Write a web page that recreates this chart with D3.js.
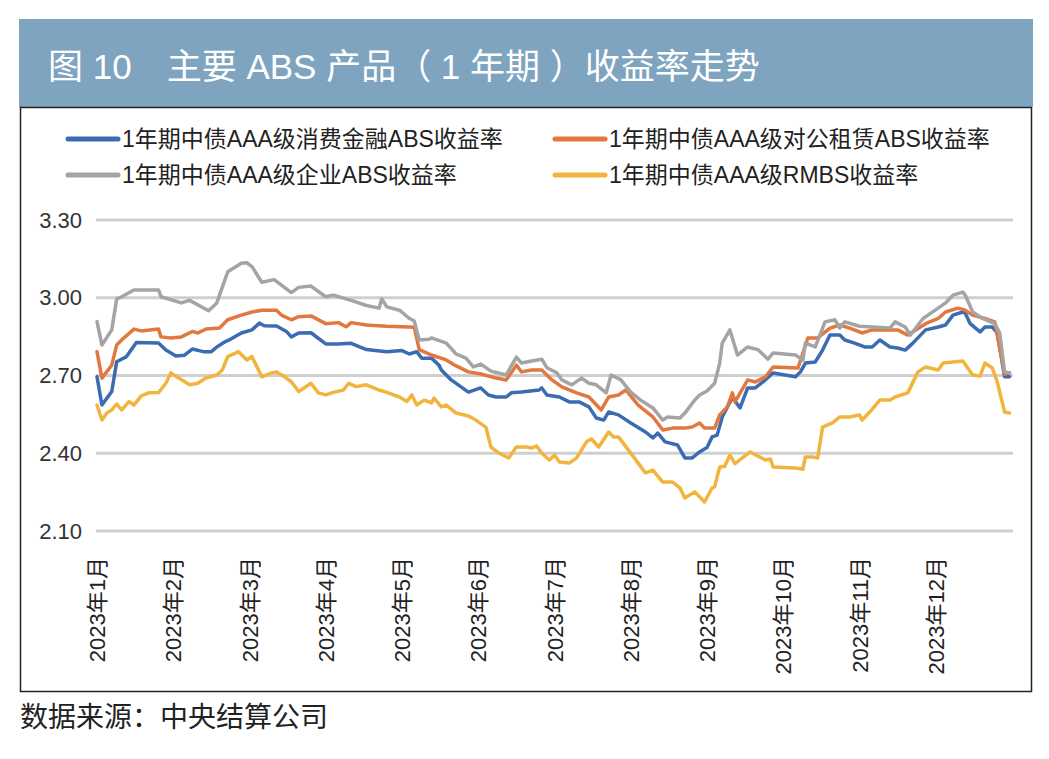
<!DOCTYPE html>
<html>
<head>
<meta charset="utf-8" />
<script src="https://d3js.org/d3.v7.min.js"></script>
<style>
  body { margin: 0; background: #fff; }
  text { font-family: "Liberation Sans", "Noto Sans CJK SC", sans-serif; }
  .grid line { stroke: #cfcfcf; stroke-width: 3px; }
  .series { fill: none; stroke-width: 3.5px; stroke-linejoin: round; stroke-linecap: round; }
</style>
</head>
<body>
<svg id="chart" width="1049" height="759"></svg>
<script>

var title = "图 10\u3000主要 ABS 产品（ 1 年期 ）收益率走势";
var source = "数据来源：中央结算公司";

var monthLabels = ["2023年1月", "2023年2月", "2023年3月", "2023年4月", "2023年5月", "2023年6月",
  "2023年7月", "2023年8月", "2023年9月", "2023年10月", "2023年11月", "2023年12月"];
var yTicks = [2.10, 2.40, 2.70, 3.00, 3.30];
var monthDays = [31, 28, 31, 30, 31, 30, 31, 31, 30, 31, 30, 31];

var seriesNames = ["1年期中债AAA级消费金融ABS收益率", "1年期中债AAA级对公租赁ABS收益率",
  "1年期中债AAA级企业ABS收益率", "1年期中债AAA级RMBS收益率"];
var seriesColors = ["#3b6cb2", "#e2783f", "#a4a4a4", "#f1b53d"];

var consumer = [
  ["01-01", 2.695], ["01-03", 2.586], ["01-07", 2.638], ["01-09", 2.753], ["01-13", 2.773], ["01-17", 2.827],
  ["01-26", 2.825], ["01-29", 2.798], ["02-02", 2.775], ["02-05", 2.778], ["02-08", 2.802], ["02-12", 2.792],
  ["02-15", 2.792], ["02-17", 2.81], ["02-20", 2.83], ["02-22", 2.84], ["02-26", 2.864], ["03-02", 2.876],
  ["03-05", 2.902], ["03-07", 2.892], ["03-12", 2.891], ["03-16", 2.87], ["03-18", 2.849], ["03-21", 2.864],
  ["03-26", 2.865], ["04-01", 2.822], ["04-06", 2.822], ["04-11", 2.824], ["04-17", 2.8], ["04-25", 2.792],
  ["05-01", 2.796], ["05-04", 2.783], ["05-07", 2.792], ["05-09", 2.767], ["05-13", 2.767], ["05-16", 2.74],
  ["05-17", 2.721], ["05-21", 2.683], ["05-25", 2.656], ["05-28", 2.636], ["06-02", 2.652], ["06-05", 2.625],
  ["06-08", 2.617], ["06-12", 2.617], ["06-14", 2.633], ["06-18", 2.636], ["06-25", 2.644], ["06-26", 2.652],
  ["06-28", 2.625], ["07-03", 2.617], ["07-07", 2.598], ["07-11", 2.598], ["07-15", 2.579], ["07-18", 2.536],
  ["07-21", 2.528], ["07-23", 2.559], ["07-27", 2.548], ["08-01", 2.517], ["08-07", 2.482], ["08-10", 2.459],
  ["08-12", 2.478], ["08-15", 2.444], ["08-20", 2.432], ["08-23", 2.382], ["08-26", 2.382], ["08-29", 2.405],
  ["09-01", 2.422], ["09-03", 2.463], ["09-05", 2.47], ["09-07", 2.54], ["09-11", 2.615], ["09-14", 2.575],
  ["09-17", 2.652], ["09-20", 2.652], ["09-23", 2.675], ["09-27", 2.71], ["10-06", 2.695], ["10-08", 2.714],
  ["10-10", 2.748], ["10-14", 2.752], ["10-17", 2.798], ["10-20", 2.856], ["10-24", 2.856], ["10-26", 2.837],
  ["10-30", 2.825], ["11-03", 2.81], ["11-06", 2.81], ["11-09", 2.837], ["11-13", 2.81], ["11-16", 2.806],
  ["11-19", 2.798], ["11-22", 2.825], ["11-27", 2.876], ["12-02", 2.887], ["12-05", 2.895], ["12-08", 2.933],
  ["12-12", 2.945], ["12-13", 2.94], ["12-15", 2.9], ["12-19", 2.868], ["12-21", 2.887], ["12-24", 2.887],
  ["12-26", 2.864], ["12-29", 2.695], ["12-31", 2.695]
];

var leasing = [
  ["01-01", 2.792], ["01-03", 2.69], ["01-07", 2.74], ["01-09", 2.818], ["01-11", 2.837], ["01-16", 2.879],
  ["01-19", 2.872], ["01-26", 2.879], ["01-27", 2.849], ["01-31", 2.845], ["02-04", 2.849], ["02-08", 2.87],
  ["02-10", 2.864], ["02-13", 2.879], ["02-18", 2.883], ["02-21", 2.915], ["02-26", 2.933], ["03-02", 2.945],
  ["03-06", 2.952], ["03-12", 2.952], ["03-14", 2.933], ["03-18", 2.915], ["03-21", 2.927], ["03-26", 2.93],
  ["04-01", 2.9], ["04-06", 2.904], ["04-09", 2.888], ["04-11", 2.904], ["04-17", 2.895], ["04-25", 2.89],
  ["05-01", 2.888], ["05-06", 2.886], ["05-08", 2.8], ["05-13", 2.779], ["05-19", 2.76], ["05-23", 2.737],
  ["05-28", 2.714], ["06-02", 2.706], ["06-08", 2.69], ["06-12", 2.683], ["06-16", 2.74], ["06-18", 2.714],
  ["06-22", 2.721], ["06-26", 2.721], ["06-30", 2.683], ["07-04", 2.656], ["07-10", 2.633], ["07-15", 2.617],
  ["07-20", 2.567], ["07-23", 2.617], ["07-27", 2.625], ["07-30", 2.644], ["08-04", 2.586], ["08-10", 2.54],
  ["08-14", 2.49], ["08-18", 2.497], ["08-23", 2.497], ["08-26", 2.501], ["08-29", 2.517], ["08-31", 2.497],
  ["09-04", 2.497], ["09-06", 2.548], ["09-09", 2.579], ["09-11", 2.633], ["09-12", 2.598], ["09-17", 2.683],
  ["09-20", 2.675], ["09-24", 2.695], ["09-27", 2.733], ["10-07", 2.729], ["10-11", 2.845], ["10-15", 2.845],
  ["10-20", 2.883], ["10-24", 2.895], ["10-28", 2.883], ["11-02", 2.864], ["11-06", 2.876], ["11-11", 2.876],
  ["11-16", 2.876], ["11-20", 2.856], ["11-27", 2.9], ["12-02", 2.92], ["12-05", 2.945], ["12-10", 2.96],
  ["12-13", 2.952], ["12-16", 2.933], ["12-21", 2.92], ["12-25", 2.907], ["12-29", 2.705], ["12-31", 2.71]
];

var corporate = [
  ["01-01", 2.908], ["01-03", 2.818], ["01-07", 2.876], ["01-09", 2.995], ["01-11", 3.004], ["01-16", 3.03],
  ["01-26", 3.03], ["01-27", 3.004], ["02-04", 2.98], ["02-07", 2.99], ["02-14", 2.95], ["02-17", 2.98],
  ["02-19", 3.04], ["02-21", 3.10], ["02-26", 3.133], ["02-28", 3.135], ["03-02", 3.12], ["03-06", 3.06],
  ["03-11", 3.07], ["03-18", 3.02], ["03-21", 3.04], ["03-26", 3.045], ["04-01", 3.004], ["04-04", 3.01],
  ["04-11", 2.99], ["04-17", 2.97], ["04-22", 2.96], ["04-23", 2.995], ["04-25", 2.965], ["04-30", 2.952],
  ["05-04", 2.92], ["05-06", 2.91], ["05-08", 2.837], ["05-12", 2.84], ["05-13", 2.845], ["05-19", 2.825],
  ["05-23", 2.783], ["05-27", 2.767], ["05-30", 2.733], ["06-02", 2.744], ["06-06", 2.717], ["06-12", 2.702],
  ["06-16", 2.771], ["06-18", 2.748], ["06-22", 2.756], ["06-26", 2.763], ["06-28", 2.73], ["07-02", 2.71],
  ["07-04", 2.683], ["07-08", 2.664], ["07-12", 2.69], ["07-15", 2.67], ["07-18", 2.664], ["07-22", 2.633],
  ["07-24", 2.702], ["07-28", 2.683], ["08-01", 2.636], ["08-05", 2.605], ["08-10", 2.575], ["08-14", 2.528],
  ["08-16", 2.54], ["08-21", 2.536], ["08-23", 2.555], ["08-27", 2.605], ["08-29", 2.625], ["09-01", 2.64],
  ["09-04", 2.67], ["09-06", 2.748], ["09-07", 2.825], ["09-10", 2.876], ["09-13", 2.779], ["09-17", 2.81],
  ["09-21", 2.80], ["09-25", 2.763], ["09-27", 2.787], ["10-06", 2.779], ["10-09", 2.76], ["10-10", 2.825],
  ["10-14", 2.81], ["10-18", 2.907], ["10-22", 2.915], ["10-24", 2.883], ["10-26", 2.907], ["11-01", 2.89],
  ["11-06", 2.887], ["11-13", 2.883], ["11-15", 2.907], ["11-19", 2.887], ["11-21", 2.856], ["11-26", 2.92],
  ["12-02", 2.96], ["12-05", 2.98], ["12-08", 3.01], ["12-12", 3.022], ["12-13", 3.01], ["12-16", 2.945],
  ["12-20", 2.92], ["12-25", 2.9], ["12-27", 2.864], ["12-29", 2.714], ["12-31", 2.71]
];

var rmbs = [
  ["01-01", 2.586], ["01-03", 2.528], ["01-05", 2.555], ["01-07", 2.567], ["01-09", 2.59], ["01-11", 2.567],
  ["01-14", 2.599], ["01-16", 2.586], ["01-19", 2.621], ["01-22", 2.633], ["01-26", 2.634], ["01-29", 2.67],
  ["01-31", 2.71], ["02-03", 2.69], ["02-07", 2.664], ["02-10", 2.67], ["02-13", 2.69], ["02-17", 2.702],
  ["02-19", 2.721], ["02-21", 2.773], ["02-25", 2.792], ["02-28", 2.76], ["03-02", 2.773], ["03-06", 2.695],
  ["03-10", 2.71], ["03-12", 2.714], ["03-16", 2.69], ["03-18", 2.676], ["03-21", 2.638], ["03-26", 2.67],
  ["03-29", 2.633], ["04-01", 2.625], ["04-04", 2.635], ["04-08", 2.644], ["04-10", 2.67], ["04-13", 2.657],
  ["04-17", 2.664], ["04-22", 2.644], ["04-25", 2.635], ["04-30", 2.617], ["05-03", 2.6], ["05-05", 2.625],
  ["05-07", 2.586], ["05-10", 2.605], ["05-13", 2.594], ["05-14", 2.613], ["05-17", 2.579], ["05-19", 2.586],
  ["05-23", 2.555], ["05-28", 2.544], ["05-31", 2.528], ["06-04", 2.501], ["06-06", 2.424], ["06-09", 2.401],
  ["06-13", 2.382], ["06-16", 2.424], ["06-20", 2.424], ["06-22", 2.42], ["06-24", 2.428], ["06-26", 2.4],
  ["06-29", 2.374], ["07-01", 2.393], ["07-03", 2.366], ["07-07", 2.362], ["07-10", 2.382], ["07-14", 2.444],
  ["07-16", 2.455], ["07-19", 2.424], ["07-23", 2.482], ["07-25", 2.463], ["07-27", 2.463], ["07-31", 2.413],
  ["08-04", 2.362], ["08-07", 2.324], ["08-10", 2.335], ["08-14", 2.289], ["08-18", 2.289], ["08-21", 2.266],
  ["08-23", 2.227], ["08-27", 2.251], ["08-31", 2.212], ["09-03", 2.266], ["09-04", 2.27], ["09-06", 2.347],
  ["09-08", 2.35], ["09-10", 2.393], ["09-12", 2.36], ["09-18", 2.405], ["09-24", 2.374], ["09-26", 2.378],
  ["09-27", 2.347], ["10-06", 2.343], ["10-09", 2.338], ["10-10", 2.386], ["10-13", 2.386], ["10-15", 2.382],
  ["10-17", 2.501], ["10-21", 2.517], ["10-24", 2.54], ["10-28", 2.54], ["11-01", 2.548], ["11-02", 2.528],
  ["11-05", 2.559], ["11-09", 2.605], ["11-13", 2.605], ["11-15", 2.617], ["11-20", 2.633], ["11-24", 2.714],
  ["11-27", 2.733], ["12-02", 2.721], ["12-04", 2.748], ["12-08", 2.752], ["12-12", 2.756], ["12-16", 2.702],
  ["12-19", 2.698], ["12-21", 2.748], ["12-24", 2.729], ["12-26", 2.675], ["12-29", 2.559], ["12-31", 2.555]
];

var allSeries = [consumer, leasing, corporate, rmbs];

// month position of an "MM-DD" date, months drawn evenly spaced
function monthPos(s) {
  var p = s.split("-").map(Number);
  return p[0] - 1 + (p[1] - 1) / monthDays[p[0] - 1];
}

var svg = d3.select("#chart");

// title band
svg.append("rect")
  .attr("x", 19).attr("y", 19)
  .attr("width", 1014).attr("height", 88)
  .attr("fill", "#7ea4c0");

svg.append("text")
  .attr("x", 48).attr("y", 79)
  .attr("fill", "#fff")
  .attr("font-size", 35)
  .text(title);

// chart frame
svg.append("rect")
  .attr("x", 20.5).attr("y", 107.5)
  .attr("width", 1011).attr("height", 584)
  .attr("fill", "none")
  .attr("stroke", "#222")
  .attr("stroke-width", 1.5);

var x = d3.scaleLinear().domain([0, 12]).range([97, 1012]);
var y = d3.scaleLinear().domain([2.10, 3.30]).range([531, 220]);

// grid
svg.append("g")
  .attr("class", "grid")
  .selectAll("line")
  .data(yTicks)
  .enter().append("line")
  .attr("x1", 96).attr("x2", 1013)
  .attr("y1", function(d) { return y(d); })
  .attr("y2", function(d) { return y(d); });

// y axis labels
var yAxis = d3.axisLeft(y).tickValues(yTicks).tickFormat(d3.format(".2f")).tickSize(0).tickPadding(14);
var yg = svg.append("g").attr("transform", "translate(96,0)").call(yAxis);
yg.select(".domain").remove();
yg.selectAll("text")
  .attr("font-size", 22)
  .attr("fill", "#333")
  .style("font-family", "'Liberation Sans', sans-serif");

// x axis labels
var xAxis = d3.axisBottom(x)
  .tickValues(d3.range(monthLabels.length))
  .tickFormat(function(d) { return monthLabels[d]; })
  .tickSize(0);
var xg = svg.append("g").attr("transform", "translate(0,557)").call(xAxis);
xg.select(".domain").remove();
xg.selectAll("text")
  .attr("font-size", 22)
  .attr("fill", "#222")
  .attr("text-anchor", "end")
  .attr("dy", "0.35em")
  .attr("y", 0)
  .attr("transform", "rotate(-90)")
  .style("font-family", "'Liberation Sans', 'Noto Sans CJK SC', sans-serif");

// lines
var line = d3.line()
  .x(function(d) { return x(monthPos(d[0])); })
  .y(function(d) { return y(d[1]); });

svg.selectAll(".series")
  .data(allSeries)
  .enter().append("path")
  .attr("class", "series")
  .attr("stroke", function(d, i) { return seriesColors[i]; })
  .attr("d", line);

// legend
var legendPos = [[68, 139], [555, 139], [68, 175], [555, 175]];
var legend = svg.selectAll(".legend")
  .data(seriesNames)
  .enter().append("g")
  .attr("class", "legend")
  .attr("transform", function(d, i) { return "translate(" + legendPos[i][0] + "," + legendPos[i][1] + ")"; });

legend.append("line")
  .attr("x1", 0).attr("x2", 50)
  .attr("stroke", function(d, i) { return seriesColors[i]; })
  .attr("stroke-width", 5)
  .attr("stroke-linecap", "round");

legend.append("text")
  .attr("x", 54)
  .attr("dy", "0.36em")
  .attr("font-size", 23)
  .attr("fill", "#222")
  .text(function(d) { return d; });

// source note
svg.append("text")
  .attr("x", 20).attr("y", 727)
  .attr("font-size", 28)
  .attr("fill", "#222")
  .text(source);

</script>
</body>
</html>
